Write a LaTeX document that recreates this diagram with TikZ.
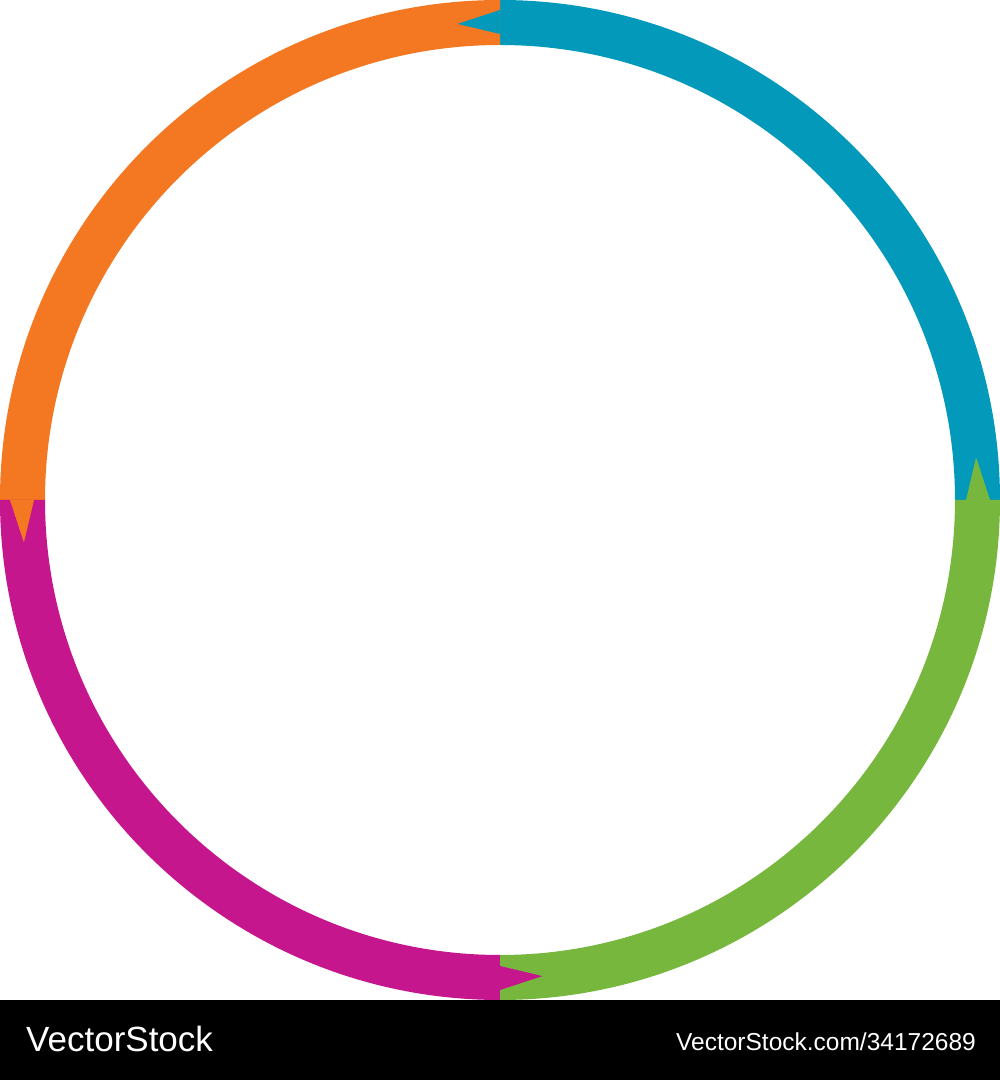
\documentclass[tikz,border=0pt]{standalone}
\usepackage{fontspec}
\setmainfont{Liberation Sans}
\definecolor{cblue}{HTML}{0399BA}
\definecolor{corange}{HTML}{F37821}
\definecolor{cgreen}{HTML}{77B73E}
\definecolor{cmagenta}{HTML}{C6168D}
\tikzset{
  footertext/.style={text=white, inner sep=0pt},
}
\newcommand{\ringseg}[3]{% colour, start angle, end angle (arrow at end)
  \fill[#1] (#2:500) arc[start angle=#2, end angle=#3, radius=500]
     -- (#3:455) arc[start angle=#3, end angle=#2, radius=455] -- cycle;
}
\newcommand{\ringtip}[2]{% colour, base angle
  \fill[#1] (#2:466) -- ({#2+5.1}:478) -- (#2:490) -- cycle;
}
\begin{document}
\begin{tikzpicture}[x=1pt,y=1pt]
\useasboundingbox (0,0) rectangle (1000,1080);
\fill[white] (0,0) rectangle (1000,1080);
\fill[black] (0,0) rectangle (1000,80);
\node[footertext, anchor=base west, font=\fontsize{35}{40}\selectfont] (logo) at (26,28) {VectorStock};
\node[footertext, anchor=base east, font=\fontsize{24.5}{28}\selectfont] (ref) at (976,29) {VectorStock.com/34172689};
\begin{scope}[shift={(500,580)}]
  \ringseg{cblue}{0}{90}
  \ringseg{corange}{90}{180}
  \ringseg{cmagenta}{180}{270}
  \ringseg{cgreen}{270}{360}
  \ringtip{cblue}{90}
  \ringtip{corange}{180}
  \ringtip{cmagenta}{270}
  \ringtip{cgreen}{0}
\end{scope}
\end{tikzpicture}
\end{document}
